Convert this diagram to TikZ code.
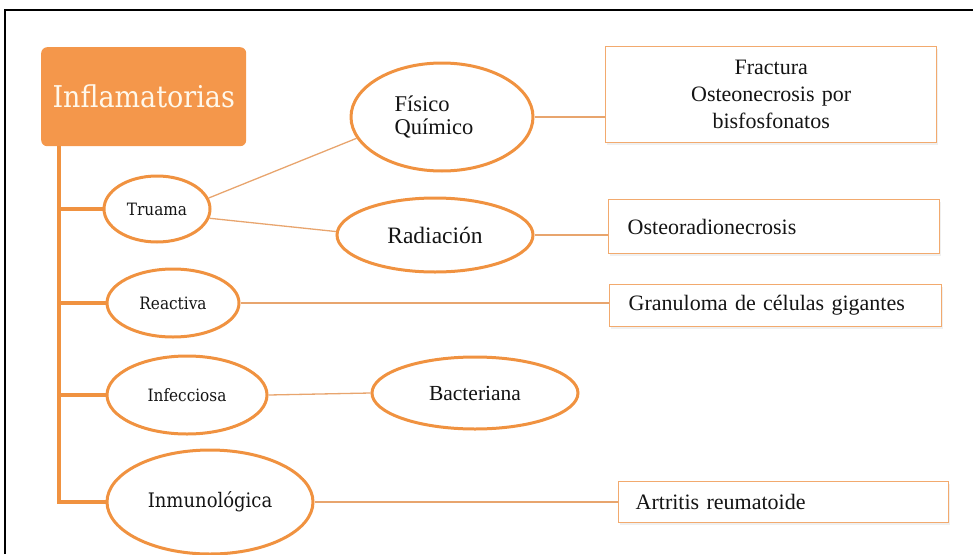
\documentclass[tikz,border=0pt]{standalone}
\usepackage{fontspec}
\setmainfont[WordSpace=0.6]{Liberation Serif}
\newfontfamily\camb{DejaVu Serif Condensed}
\usetikzlibrary{shapes.geometric,shadows}
\definecolor{orangefill}{RGB}{244,151,75}
\definecolor{ringorange}{RGB}{240,146,64}
\definecolor{wireorange}{RGB}{232,165,110}
\definecolor{boxedge}{RGB}{242,170,110}
\definecolor{creamtext}{RGB}{255,248,235}
\definecolor{inktext}{RGB}{20,20,20}
\newcommand\fsz[2]{\fontsize{#1}{#2}\selectfont}

\begin{document}
\begin{tikzpicture}[x=1pt,y=-1pt,
  ring/.style={ellipse,draw=ringorange,line width=3pt,fill=white,inner sep=0pt,text=inktext},
  leaf/.style={draw=boxedge,line width=1.4pt,fill=white,inner ysep=0pt,text=inktext,
    anchor=north west,font=\fsz{22}{27},
    drop shadow={opacity=0.12,shadow xshift=1.5pt,shadow yshift=-2pt}},
  wire/.style={draw=wireorange,line width=1.3pt},
  trunkline/.style={draw=ringorange,line width=3.5pt}]
\useasboundingbox (0,0) rectangle (973,554);

% frame
\draw[line width=2pt] (5,554) -- (5,10) -- (973,10);

% root box
\node[fill=orangefill,rounded corners=6pt,minimum width=205pt,minimum height=99pt,
      anchor=north west,inner sep=0pt,text=creamtext,font=\camb\fsz{30}{34}]
      (root) at (41,47) {Inflamatorias};
\coordinate (top) at (59,146);

% first level
\node[ring,minimum width=106pt,minimum height=66pt,font=\camb\fsz{17}{20}] (tru) at (157,209) {Truama};
\node[ring,minimum width=132pt,minimum height=68pt,font=\camb\fsz{17}{20}] (rea) at (173,303) {Reactiva};
\node[ring,minimum width=160pt,minimum height=78pt,font=\camb\fsz{17}{20}] (inf) at (187,395) {Infecciosa};
\node[ring,minimum width=206pt,minimum height=104pt,font=\camb\fsz{20}{23}] (inm) at (210,502) {Inmunológica};

% second level
\node[ring,minimum width=182pt,minimum height=108pt,text width=95pt,align=left,font=\fsz{22.5}{23.5}] (fis) at (442,117) {Físico\\Químico};
\node[ring,minimum width=196pt,minimum height=74pt,font=\fsz{23.5}{26}] (rad) at (435,235) {Radiación};
\node[ring,minimum width=206pt,minimum height=72pt,font=\fsz{21.5}{24}] (bac) at (475,393) {Bacteriana};

% leaves
\node[leaf,minimum width=331pt,minimum height=96pt,text width=311pt,inner xsep=10pt,align=center] (frac) at (605,46)
  {Fractura\\Osteonecrosis por\\bisfosfonatos};
\node[leaf,minimum width=331pt,minimum height=54pt,text width=293pt,inner xsep=19pt,align=left] (osr) at (608,199)
  {Osteoradionecrosis};
\node[leaf,minimum width=332pt,minimum height=42pt,text width=294pt,inner xsep=19pt,align=left] (gra) at (609,284)
  {Granuloma de células gigantes};
\node[leaf,minimum width=330pt,minimum height=41pt,text width=296pt,inner xsep=17pt,align=left] (art) at (618,481)
  {Artritis reumatoide};

% trunk and branches
\draw[trunkline] (top) -- (top |- inm.west) -- (inm.west);
\draw[trunkline] (top |- tru.west) -- (tru.west);
\draw[trunkline] (top |- rea.west) -- (rea.west);
\draw[trunkline] (top |- inf.west) -- (inf.west);

% connectors
\draw[wire] (tru.12) -- (fis.194);
\draw[wire] (tru.-10) -- (rad.178);
\draw[wire] (fis.east) -- (fis.east -| frac.west);
\draw[wire] (rad.east) -- (rad.east -| osr.west);
\draw[wire] (rea.east) -- (rea.east -| gra.west);
\draw[wire] (inf.east) -- (bac.west);
\draw[wire] (inm.east) -- (inm.east -| art.west);
\end{tikzpicture}
\end{document}
